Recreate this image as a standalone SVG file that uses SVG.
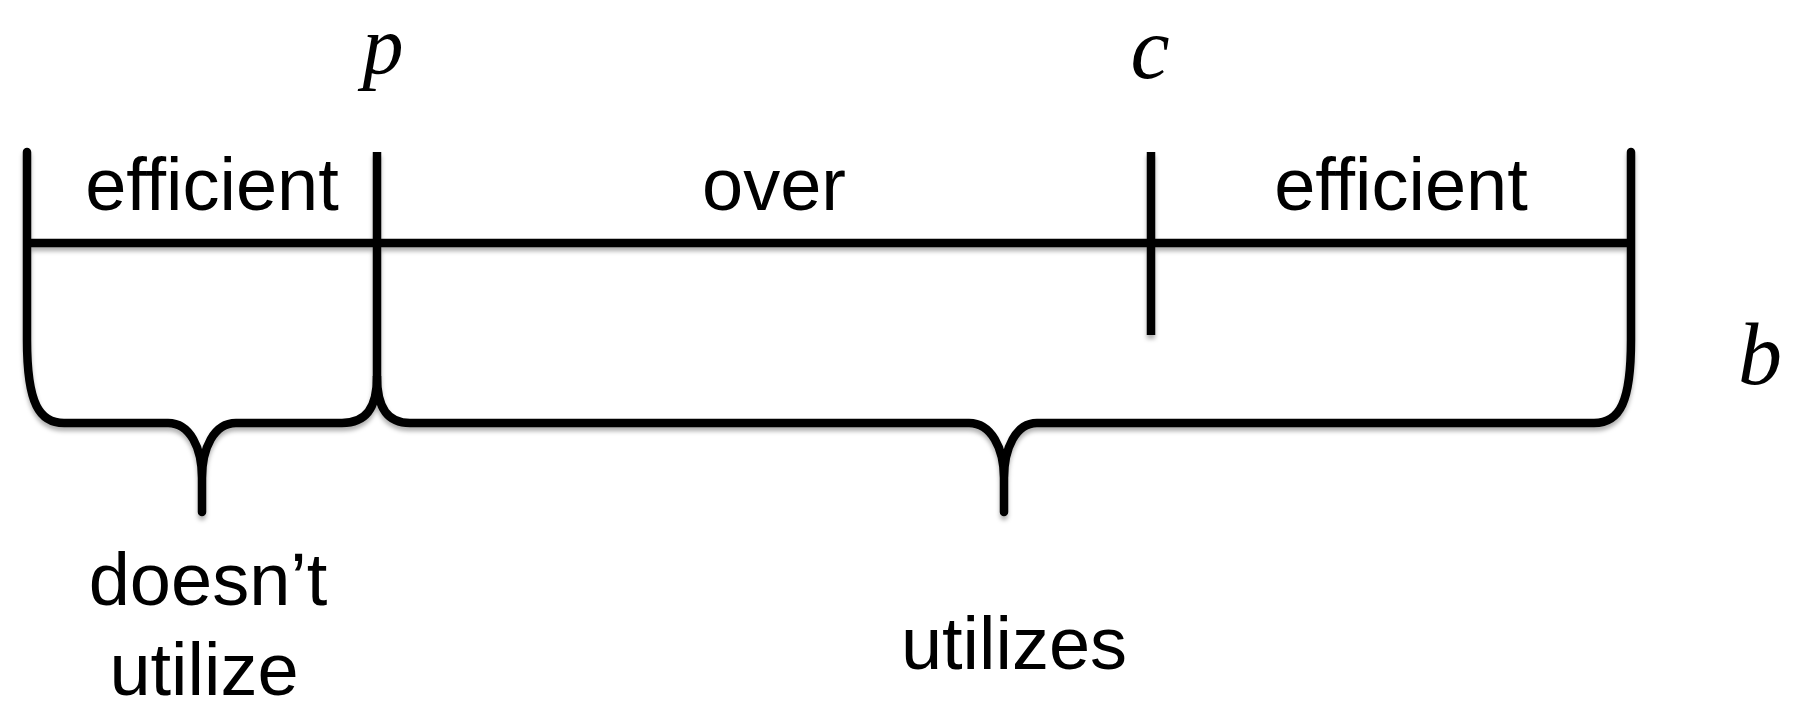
<svg xmlns="http://www.w3.org/2000/svg" width="1800" height="711" viewBox="0 0 1800 711">
<defs>
<style>
.ln{fill:none;stroke:#000;stroke-width:8.5;stroke-linecap:butt}
.br{fill:none;stroke:#000;stroke-width:8.5;stroke-linecap:round;stroke-linejoin:round}
.lbl{font-family:"Liberation Sans",Arial,sans-serif;font-size:74px;fill:#000;text-anchor:middle}
.var{font-family:"Liberation Serif","Times New Roman",serif;font-style:italic;font-size:88px;fill:#000;text-anchor:middle}
</style>
<filter id="sh" x="-5%" y="-20%" width="110%" height="140%">
<feDropShadow dx="0" dy="4" stdDeviation="2" flood-color="#000" flood-opacity="0.3"/>
</filter>
</defs>
<rect width="1800" height="711" fill="#fff"/>
<g id="connectors" filter="url(#sh)">
<path class="ln" d="M27,243 L1631,243"/>
<path class="ln" d="M1151,152 L1151,335"/>
<path class="ln" d="M377,152 L377,377"/>
<path id="brace-left" class="br" d="M27,152 L27,340 C27,405 40,423 64,423 L168,423 C190,423 202,448 202,478 L202,512 M202,478 C202,448 214,423 236,423 L342,423 C366,423 377,408 377,377"/>
<path id="brace-right" class="br" d="M377,377 C377,408 388,423 410,423 L969,423 C991,423 1004,448 1004,478 L1004,512 M1004,478 C1004,448 1016,423 1037,423 L1594,423 C1620,423 1631,402 1631,340 L1631,152"/>
</g>
<g id="var-p"><text class="var" x="383" y="73" style="font-size:82px">p</text></g>
<g id="var-c"><text class="var" x="1150" y="78">c</text></g>
<g id="var-b"><text class="var" x="1760" y="384">b</text></g>
<g id="seg-efficient-left"><text class="lbl" x="212" y="210">efficient</text></g>
<g id="seg-over"><text class="lbl" x="774" y="210">over</text></g>
<g id="seg-efficient-right"><text class="lbl" x="1401" y="210">efficient</text></g>
<g id="label-doesnt"><text class="lbl" x="208" y="605">doesn’t</text><text class="lbl" x="204" y="695">utilize</text></g>
<g id="label-utilizes"><text class="lbl" x="1014" y="669">utilizes</text></g>
</svg>
